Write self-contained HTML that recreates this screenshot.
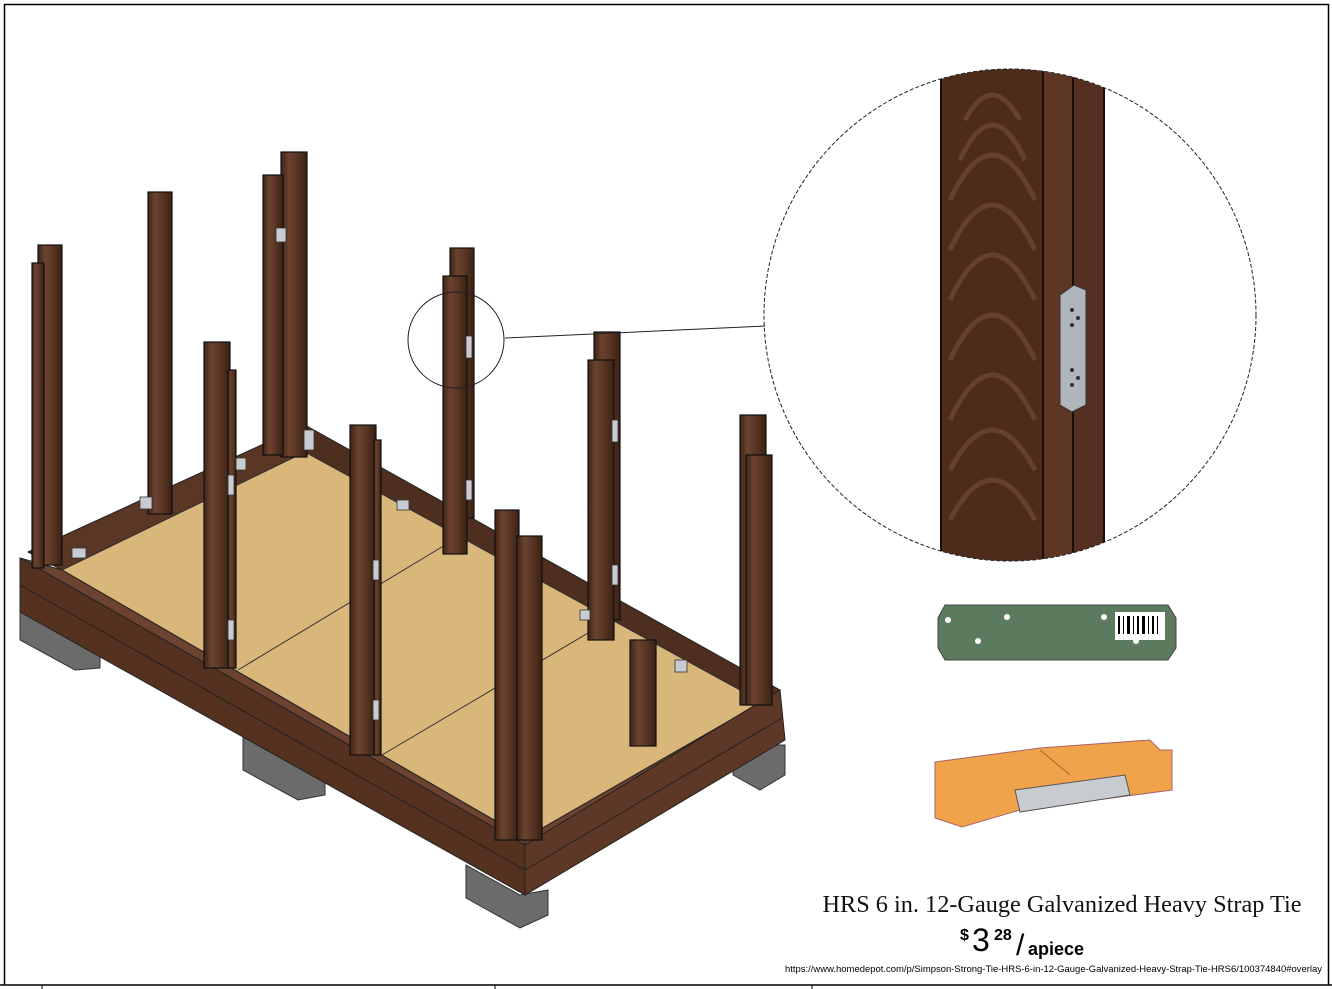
<!DOCTYPE html>
<html><head><meta charset="utf-8"><style>
html,body{margin:0;padding:0;background:#fff;}
body{width:1332px;height:989px;overflow:hidden;position:relative;}
</style></head><body>
<svg width="1332" height="989" viewBox="0 0 1332 989" xmlns="http://www.w3.org/2000/svg" style="position:absolute;left:0;top:0">
<defs>
<linearGradient id="wood" x1="0" x2="1" y1="0" y2="0">
<stop offset="0" stop-color="#3f2416"/><stop offset="0.3" stop-color="#6b4330"/><stop offset="0.6" stop-color="#5a3624"/><stop offset="1" stop-color="#3a2114"/>
</linearGradient>
<clipPath id="bc"><circle cx="1010" cy="315" r="246"/></clipPath>
</defs>
<path d="M4.5 985 V4.5 H1328.5 V985" fill="none" stroke="#000" stroke-width="1.5"/>
<line x1="0" y1="985" x2="1332" y2="985" stroke="#000" stroke-width="1.5"/>
<line x1="42" y1="985" x2="42" y2="989" stroke="#000"/>
<line x1="495" y1="985" x2="495" y2="989" stroke="#000"/>
<line x1="812" y1="985" x2="812" y2="989" stroke="#000"/>

<g fill="#6b6b6b" stroke="#333" stroke-width="1">
<polygon points="20,605 60,628 100,650 100,668 75,670 20,640"/>
<polygon points="243,735 300,765 325,780 325,795 298,800 243,770"/>
<polygon points="466,865 520,895 548,890 548,915 520,928 466,898"/>
<polygon points="733,745 785,745 785,775 760,790 733,775"/>
</g>

<!-- back beams -->
<polygon points="28,552 305,425 305,452 62,570" fill="#5a3624" stroke="#222"/>
<polygon points="305,425 780,690 762,702 305,452" fill="#4e2e1e" stroke="#222"/>
<!-- plywood -->
<polygon points="62,570 305,452 762,702 525,838" fill="#d9b679" stroke="#333"/>
<path d="M238,670 L470,530 M382,755 L610,620" stroke="#333" fill="none"/>
<!-- front beams -->
<polygon points="20,558 62,570 525,838 525,845" fill="#6b4330" stroke="#222"/>
<polygon points="525,838 762,702 780,690 525,845" fill="#6b4330" stroke="#222"/>
<polygon points="20,558 525,845 525,895 20,612" fill="#553220" stroke="#222"/>
<polygon points="525,845 780,690 785,740 525,895" fill="#5e3826" stroke="#222"/>
<line x1="20" y1="585" x2="525" y2="870" stroke="#222"/>
<line x1="525" y1="870" x2="782" y2="718" stroke="#222"/>

<g stroke="#111" stroke-width="1.2" fill="url(#wood)">
<rect x="38" y="245" width="24" height="320"/>
<rect x="32" y="263" width="12" height="305"/>
<rect x="148" y="192" width="24" height="322"/>
<rect x="281" y="152" width="26" height="305"/>
<rect x="263" y="175" width="20" height="280"/>
<rect x="204" y="342" width="26" height="326"/>
<rect x="228" y="370" width="8" height="298"/>
<rect x="350" y="425" width="26" height="330"/>
<rect x="374" y="440" width="7" height="315"/>
<rect x="450" y="248" width="24" height="270"/>
<rect x="443" y="276" width="24" height="278"/>
<rect x="495" y="510" width="24" height="330"/>
<rect x="517" y="536" width="25" height="304"/>
<rect x="594" y="332" width="26" height="288"/>
<rect x="588" y="360" width="26" height="280"/>
<rect x="630" y="640" width="26" height="106"/>
<rect x="740" y="415" width="26" height="290"/>
<rect x="746" y="455" width="26" height="250"/>
</g>
<g fill="#c8ccd2" stroke="#333" stroke-width="0.8">
<rect x="276" y="228" width="10" height="14"/><rect x="466" y="336" width="6" height="22"/>
<rect x="466" y="480" width="6" height="20"/><rect x="612" y="420" width="6" height="22"/>
<rect x="612" y="565" width="6" height="20"/><rect x="228" y="475" width="6" height="20"/>
<rect x="228" y="620" width="6" height="20"/><rect x="373" y="560" width="6" height="20"/>
<rect x="373" y="700" width="6" height="20"/><rect x="72" y="548" width="14" height="10"/>
<rect x="140" y="497" width="12" height="12"/><rect x="236" y="458" width="10" height="12"/>
<rect x="397" y="500" width="12" height="10"/><rect x="675" y="660" width="12" height="12"/>
<rect x="580" y="610" width="10" height="10"/><rect x="304" y="430" width="10" height="20"/>
</g>

<circle cx="456" cy="340" r="48" fill="none" stroke="#222" stroke-width="1"/>
<line x1="505" y1="338" x2="765" y2="326" stroke="#222" stroke-width="1"/>
<g clip-path="url(#bc)">
<rect x="940" y="60" width="105" height="510" fill="#4e2c1c"/>
<rect x="1043" y="60" width="30" height="510" fill="#5d3724"/>
<rect x="1073" y="60" width="32" height="510" fill="#553020"/>
<g fill="none" stroke="#7a5240" stroke-width="5" opacity="0.55">
<path d="M950 200 Q992 110 1035 200"/><path d="M950 250 Q992 160 1035 250"/><path d="M950 300 Q992 210 1035 300"/>
<path d="M950 360 Q992 270 1035 360"/><path d="M950 420 Q992 330 1035 420"/><path d="M950 470 Q992 390 1035 470"/><path d="M950 520 Q992 440 1035 520"/>
<path d="M960 160 Q992 90 1025 160"/><path d="M965 120 Q992 70 1020 120"/>
</g>
<line x1="1043" y1="60" x2="1043" y2="570" stroke="#1a0d06" stroke-width="2"/>
<line x1="1073" y1="60" x2="1073" y2="570" stroke="#1a0d06" stroke-width="2"/>
<line x1="941" y1="60" x2="941" y2="570" stroke="#1a0d06" stroke-width="2"/>
<line x1="1104" y1="60" x2="1104" y2="570" stroke="#1a0d06" stroke-width="2"/>
</g>
<circle cx="1010" cy="315" r="246" fill="none" stroke="#222" stroke-width="1" stroke-dasharray="4 2"/>
<polygon points="1060,295 1074,285 1086,290 1086,405 1072,412 1060,405" fill="#b0b4bb" stroke="#333"/>
<g fill="#333"><circle cx="1072" cy="310" r="2"/><circle cx="1072" cy="325" r="2"/><circle cx="1072" cy="370" r="2"/><circle cx="1072" cy="385" r="2"/><circle cx="1078" cy="318" r="2"/><circle cx="1078" cy="378" r="2"/></g>

<polygon points="945,605 1168,605 1176,618 1176,648 1168,660 945,660 938,648 938,618" fill="#5c7a5e" stroke="#444"/>
<rect x="1115" y="612" width="50" height="28" fill="#fff"/>
<g fill="#000"><rect x="1118" y="616" width="2" height="18"/><rect x="1123" y="616" width="1" height="18"/><rect x="1127" y="616" width="3" height="18"/><rect x="1133" y="616" width="1" height="18"/><rect x="1137" y="616" width="2" height="18"/><rect x="1142" y="616" width="3" height="18"/><rect x="1148" y="616" width="1" height="18"/><rect x="1152" y="616" width="2" height="18"/><rect x="1157" y="616" width="1" height="18"/></g>
<g fill="#fff"><circle cx="948" cy="620" r="3"/><circle cx="1007" cy="617" r="3"/><circle cx="978" cy="641" r="3"/><circle cx="1104" cy="617" r="3"/><circle cx="1136" cy="641" r="3"/></g>
<polygon points="935,762 1040,748 1150,740 1160,750 1172,750 1172,790 1020,810 962,827 935,818" fill="#f0a34a" stroke="#a66"/>
<polygon points="1015,790 1125,775 1130,795 1020,812" fill="#c8cbd0" stroke="#555"/>
<line x1="1040" y1="750" x2="1070" y2="775" stroke="#a0662a"/>

<text x="1062" y="912" text-anchor="middle" font-family="Liberation Serif, serif" font-size="24.3" fill="#111">HRS 6 in. 12-Gauge Galvanized Heavy Strap Tie</text>
<text x="960" y="940" font-family="Liberation Sans, sans-serif" font-size="16" font-weight="bold">$</text>
<text x="972" y="951" font-family="Liberation Sans, sans-serif" font-size="32">3</text>
<text x="994" y="940" font-family="Liberation Sans, sans-serif" font-size="16" font-weight="bold">28</text>
<text x="1016" y="955" font-family="Liberation Sans, sans-serif" font-size="30">/</text>
<text x="1028" y="955" font-family="Liberation Sans, sans-serif" font-size="18" font-weight="bold">apiece</text>
<text x="1322" y="972" text-anchor="end" textLength="537" lengthAdjust="spacingAndGlyphs" font-family="Liberation Sans, sans-serif" font-size="9">https://www.homedepot.com/p/Simpson-Strong-Tie-HRS-6-in-12-Gauge-Galvanized-Heavy-Strap-Tie-HRS6/100374840#overlay</text>
</svg>
</body></html>
